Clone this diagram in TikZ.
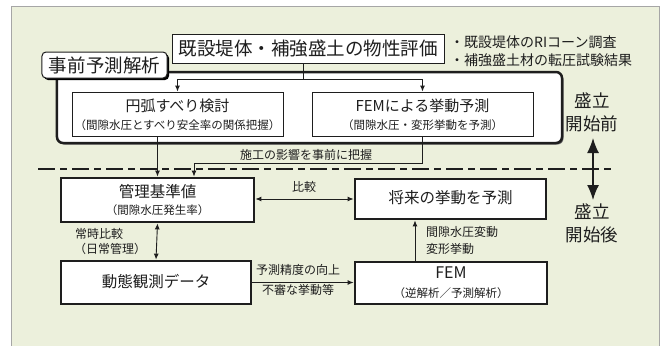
\documentclass[tikz,border=0pt]{standalone}
\usepackage{fontspec}
\setmainfont{Noto Sans CJK JP}
\usetikzlibrary{arrows.meta,shadows}
\definecolor{bg}{RGB}{236,240,220}
\definecolor{ink}{RGB}{30,30,30}
\newcommand{\myfs}[1]{\fontsize{#1bp}{#1bp}\selectfont}
\begin{document}
\begin{tikzpicture}[x=1bp,y=-1bp,
  thinbox/.style={draw=ink, fill=white, line width=0.9bp, inner sep=0pt},
  thickbox/.style={draw=ink, fill=white, line width=2.8bp, inner sep=0pt},
  arr/.style={-{Latex[length=6bp,width=5bp]}, line width=0.9bp, draw=ink},
  arrboth/.style={{Latex[length=6bp,width=5bp]}-{Latex[length=6bp,width=5bp]}, line width=0.9bp, draw=ink},
  bigarr/.style={{Latex[length=15bp,width=12bp]}-{Latex[length=15bp,width=12bp]}, line width=1.4bp, draw=ink},
  lbl/.style={font=\myfs{12}, inner sep=0pt, text=ink},
  ttl/.style={font=\myfs{15.5}, inner sep=0pt, text=ink},
  sub/.style={font=\myfs{11.5}, inner sep=0pt, text=ink},
  big/.style={font=\myfs{17.5}, inner sep=0pt, text=ink}
]
\useasboundingbox (0,0) rectangle (668,345);
\fill[white] (0,0) rectangle (668,345);
\draw[fill=bg, draw=gray!70, line width=1bp] (11,6) rectangle (659,352);

% pre-analysis frame
\node[draw=ink, fill=white, line width=2.5bp, rounded corners=6bp, minimum width=505bp, minimum height=71bp, inner sep=0pt,
  drop shadow={shadow xshift=1.5bp, shadow yshift=-1.5bp, fill=black!55, opacity=1}] (pre) at (309.5,107.5) {};
\node[draw=ink, fill=white, line width=1bp, rounded corners=4bp, minimum width=125bp, minimum height=26bp, inner sep=0pt,
  font=\myfs{18.5}, text=ink,
  drop shadow={shadow xshift=2bp, shadow yshift=-2bp, fill=black, opacity=1}] (prelbl) at (104.5,65) {事前予測解析};

% top box
\node[thinbox, minimum width=272bp, minimum height=29bp, font=\myfs{18.5}, text=ink] (top) at (308,48.5) {既設堤体・補強盛土の物性評価};
\node[font=\myfs{14}, text=ink, anchor=west, inner sep=0pt] (r1) at (450,42) {・既設堤体のRIコーン調査};
\node[font=\myfs{14}, text=ink, anchor=west, inner sep=0pt] (r2) at (450,60) {・補強盛土材の転圧試験結果};

% inner boxes
\node[thinbox, minimum width=211bp, minimum height=44bp] (enko) at (177.5,114) {};
\node[ttl, font=\myfs{15}] (enkoT) at (177.5,106) {円弧すべり検討};
\node[sub] (enkoS) at (177.5,125) {（間隙水圧とすべり安全率の関係把握）};
\node[thinbox, minimum width=221bp, minimum height=44bp] (femp) at (422.5,114) {};
\node[ttl, font=\myfs{15}] (fempT) at (422.5,106) {FEMによる挙動予測};
\node[sub] (fempS) at (422.5,125) {（間隙水圧・変形挙動を予測）};

\coordinate (j) at (303,79);
\draw[line width=0.9bp, draw=ink] (top.south -| j) -- (j);
\draw[arr] (j) -| (enko.north);
\draw[arr] (j) -| (femp.north);

% lower boxes
\node[thickbox, minimum width=193bp, minimum height=44bp] (kanri) at (157.5,200) {};
\node[ttl] (kanriT) at (157.5,192) {管理基準値};
\node[sub] (kanriS) at (157.5,210) {（間隙水圧発生率）};
\node[thickbox, minimum width=191bp, minimum height=40bp] (shorai) at (450.5,199) {};
\node[ttl] (shoraiT) at (450.5,198) {将来の挙動を予測};
\node[thickbox, minimum width=190bp, minimum height=43bp] (dotai) at (156,282.5) {};
\node[ttl] (dotaiT) at (156,282) {動態観測データ};
\node[thickbox, minimum width=192bp, minimum height=42bp] (fem) at (451,283) {};
\node[ttl, font=\myfs{16}] (femT) at (451,273) {FEM};
\node[sub] (femS) at (451,293) {（逆解析／予測解析）};

% dashed divider
\coordinate (d1) at (38,169);
\coordinate (d2) at (611,169);
\draw[draw=ink, line width=1.4bp, dash pattern=on 17bp off 5bp on 7bp off 5bp] (d1) -- (d2);

% connectors across divider
\draw[arr] (enko.south -| kanri.north) -- (kanri.north);
\coordinate (bend) at (194,163);
\draw[arr] (femp.south) |- (bend) -- (bend |- kanri.north);
\node[lbl] (sekou) at (306,155) {施工の影響を事前に把握};

\draw[arrboth] (kanri.east |- shorai.west) -- (shorai.west);
\node[lbl] (hikaku) at (304,187) {比較};

\draw[arrboth] (kanri.south) -- (dotai.north);
\node[lbl] (joji) at (99,234) {常時比較};
\node[lbl] (nichi) at (110,249) {（日常管理）};

\draw[arr] (dotai.east) -- (dotai.east -| fem.west);
\node[lbl] (seido) at (298,270) {予測精度の向上};
\node[lbl] (fushin) at (298,290) {不審な挙動等};

\coordinate (fa) at (415,262);
\draw[arr] (fa) -- (fa |- shorai.south);
\node[lbl, anchor=west] (hendo) at (426,232) {間隙水圧変動};
\node[lbl, anchor=west] (henkei) at (426,249) {変形挙動};

% before / after
\coordinate (mu) at (593,138);
\coordinate (md) at (593,200);
\draw[bigarr] (mu) -- (md);
\node[big] (m1) at (592,101) {盛立};
\node[big] (m2) at (592,124) {開始前};
\node[big] (m3) at (592,212) {盛立};
\node[big] (m4) at (592,235) {開始後};
\end{tikzpicture}
\end{document}
